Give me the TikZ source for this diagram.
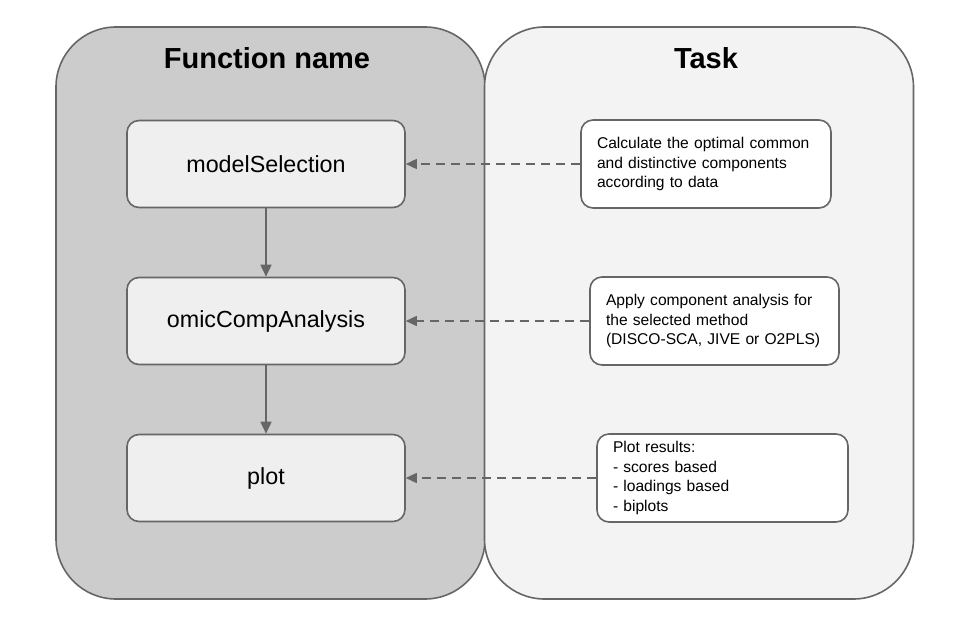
\documentclass[tikz,border=0pt]{standalone}
\usepackage{fontspec}
\setmainfont{Liberation Sans}
\usetikzlibrary{arrows.meta}
\definecolor{edge}{HTML}{666666}
\definecolor{leftfill}{HTML}{CCCCCC}
\definecolor{rightfill}{HTML}{F3F3F3}
\definecolor{funcfill}{HTML}{EFEFEF}
\tikzset{
  panel/.style={draw=edge, line width=1.6pt, rounded corners=60pt, minimum width=429pt, minimum height=572pt, inner sep=0pt},
  title/.style={font=\fontsize{29}{33}\selectfont\bfseries},
  funcbox/.style={draw=edge, fill=funcfill, line width=1.6pt, rounded corners=12pt, minimum width=278pt, minimum height=87pt, font=\fontsize{23.3}{27}\selectfont},
  taskbox/.style={draw=edge, fill=white, line width=1.6pt, rounded corners=12pt, minimum height=88pt, inner xsep=16pt, align=left, font=\fontsize{15.6}{19.5}\selectfont},
  flow/.style={draw=edge, line width=1.6pt, -{Triangle[length=12pt,width=11pt]}},
  link/.style={draw=edge, line width=1.6pt, dash pattern=on 9pt off 6pt, -{Triangle[length=11pt,width=10pt]}}
}
\begin{document}
\begin{tikzpicture}[x=1pt,y=-1pt]
\useasboundingbox (0,0) rectangle (956,617);
\node[panel, fill=leftfill] (lp) at (270.5,313) {};
\node[panel, fill=rightfill] (rp) at (699,313) {};
\node[title] (t1) at (267,58) {Function name};
\node[title] (t2) at (706,58) {Task};
\node[funcbox] (ms) at (266,164) {modelSelection};
\node[funcbox] (oca) at (266,321) {omicCompAnalysis};
\node[funcbox] (pl) at (266,478) {plot};
\node[taskbox, text width=218pt] (d1) at (706,164) {Calculate the optimal common\\and distinctive components\\according to data};
\node[taskbox, text width=217pt, inner xsep=16pt] (d2) at (714.5,321) {Apply component analysis for\\the selected method\\(DISCO-SCA, JIVE or O2PLS)};
\node[taskbox, text width=219pt] (d3) at (722.5,478) {Plot results:\\- scores based\\- loadings based\\- biplots};
\draw[flow] (ms) -- (oca);
\draw[flow] (oca) -- (pl);
\draw[link] (d1) -- (ms);
\draw[link] (d2) -- (oca);
\draw[link] (d3) -- (pl);
\end{tikzpicture}
\end{document}
